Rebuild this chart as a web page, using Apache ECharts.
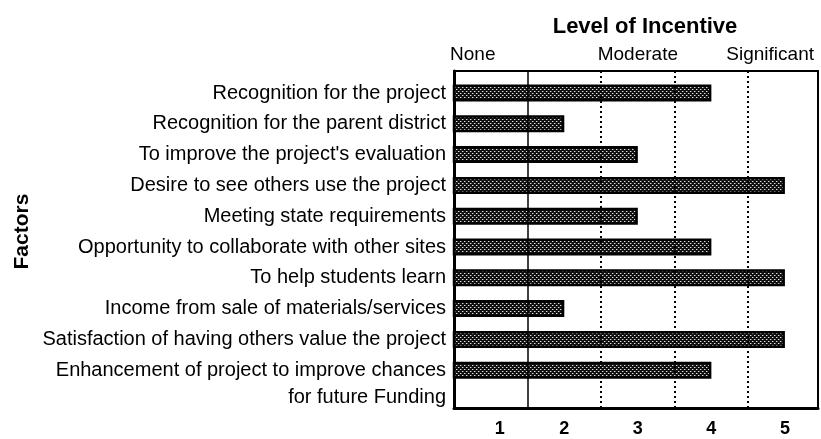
<!DOCTYPE html>
<html>
<head>
<meta charset="utf-8">
<script src="https://cdn.jsdelivr.net/npm/echarts@6/dist/echarts.min.js"></script>
<style>
  html, body { margin: 0; padding: 0; background: #fff; }
  #chart { width: 821px; height: 439px; }
</style>
</head>
<body>
<div id="chart"></div>
<script>
// factors, top to bottom
var factors = [
  'Recognition for the project',
  'Recognition for the parent district',
  'To improve the project\'s evaluation',
  'Desire to see others use the project',
  'Meeting state requirements',
  'Opportunity to collaborate with other sites',
  'To help students learn',
  'Income from sale of materials/services',
  'Satisfaction of having others value the project',
  'Enhancement of project to improve chances\nfor future Funding'
];
// level of incentive, 1..5
var incentive = [4, 2, 3, 5, 3, 4, 5, 2, 5, 4];
// scale words on top
var levelWords = { 1: 'None', 3: 'Moderate', 4.5: 'Significant' };
var levelTicks = [1, 2, 3, 4, 5];
// separators between levels
var separators = [1.5, 2.5, 3.5, 4.5];

var FONT = '"Liberation Sans", Arial, Helvetica, sans-serif';
var X_MIN = 0.5, X_MAX = 5.45;

// stippled fill like the printed bars
function makePattern() {
  var c = document.createElement('canvas');
  c.width = 4; c.height = 4;
  var g = c.getContext('2d');
  g.fillStyle = '#111';
  g.fillRect(0, 0, 4, 4);
  g.fillStyle = '#e0e0e0';
  g.fillRect(0, 1, 1, 1);
  g.fillRect(2, 3, 1, 1);
  g.fillStyle = '#666';
  g.fillRect(1, 1, 1, 1);
  g.fillRect(3, 3, 1, 1);
  return c;
}

var chart = echarts.init(document.getElementById('chart'), null, { renderer: 'canvas' });

var markData = separators.map(function (v, i) {
  return {
    xAxis: v,
    lineStyle: i === 0 ? { type: 'solid', width: 1.5 } : { type: [2, 3], width: 2 }
  };
});

var option = {
  animation: false,
  title: {
    text: 'Level of Incentive',
    left: 645,
    top: 16,
    padding: 0,
    textAlign: 'center',
    textStyle: { fontFamily: FONT, fontSize: 22, fontWeight: 'bold', color: '#000' }
  },
  grid: [
    // frame
    { left: 454, right: 3, top: 71, bottom: 31, show: true, borderColor: '#000', borderWidth: 2, backgroundColor: 'transparent' },
    // bars
    { left: 454, right: 3, top: 77.6, height: 308 }
  ],
  xAxis: [
    {
      gridIndex: 0, type: 'value', position: 'bottom', min: X_MIN, max: X_MAX, interval: 0.5,
      axisLine: { show: true, lineStyle: { color: '#000', width: 3 } },
      axisTick: { show: false }, splitLine: { show: false },
      axisLabel: {
        margin: 12, fontFamily: FONT, fontSize: 18, fontWeight: 'bold', color: '#000',
        showMaxLabel: false,
        formatter: function (v) {
          if (levelTicks.indexOf(v) < 0) return '';
          return v === 1 ? '{p|1}' : String(v);
        },
        rich: { p: { padding: [0, 0, 0, 18], fontFamily: FONT, fontSize: 18, fontWeight: 'bold', color: '#000' } }
      }
    },
    {
      gridIndex: 0, type: 'value', position: 'top', min: X_MIN, max: X_MAX, interval: 0.5,
      axisLine: { show: false }, axisTick: { show: false }, splitLine: { show: false },
      axisLabel: {
        margin: 7, fontFamily: FONT, fontSize: 19, color: '#000',
        showMaxLabel: false, hideOverlap: false,
        formatter: function (v) {
          var w = levelWords[v];
          if (!w) return '';
          if (v === 1) return '{n|' + w + '}';
          if (v === 4.5) return '{s|' + w + '}';
          return w;
        },
        rich: {
          n: { padding: [0, 36, 0, 0], fontFamily: FONT, fontSize: 19, color: '#000' },
          s: { padding: [0, 0, 0, 44], fontFamily: FONT, fontSize: 19, color: '#000' }
        }
      }
    },
    {
      gridIndex: 1, type: 'value', min: X_MIN, max: X_MAX, show: false
    }
  ],
  yAxis: [
    {
      gridIndex: 0, type: 'value', min: 0, max: 1,
      axisLine: { show: true, lineStyle: { color: '#000', width: 3 } },
      axisTick: { show: false }, axisLabel: { show: false }, splitLine: { show: false }
    },
    {
      gridIndex: 1, type: 'category', data: factors, inverse: true,
      axisLine: { show: false }, axisTick: { show: false },
      axisLabel: {
        margin: 8, fontFamily: FONT, fontSize: 20, color: '#000', lineHeight: 27, interval: 0,
        // a blank first line keeps the first text line level with the bar
        formatter: function (v) {
          return v.indexOf('\n') < 0 ? v : ' \n' + v;
        }
      },
      name: 'Factors',
      nameLocation: 'middle',
      nameRotate: 90,
      nameGap: 421,
      nameTextStyle: { fontFamily: FONT, fontSize: 21, fontWeight: 'bold', color: '#000' }
    }
  ],
  series: [
    {
      type: 'line', xAxisIndex: 0, yAxisIndex: 0, data: [], z: 1, silent: true,
      markLine: {
        silent: true, symbol: 'none', label: { show: false },
        lineStyle: { color: '#000' },
        data: markData
      }
    },
    {
      type: 'bar', xAxisIndex: 2, yAxisIndex: 1, data: incentive, barWidth: 17, z: 3,
      clip: true,
      itemStyle: {
        color: { image: makePattern(), repeat: 'repeat' },
        borderColor: '#000', borderWidth: 2.5
      }
    }
  ]
};

chart.setOption(option);
</script>
</body>
</html>
